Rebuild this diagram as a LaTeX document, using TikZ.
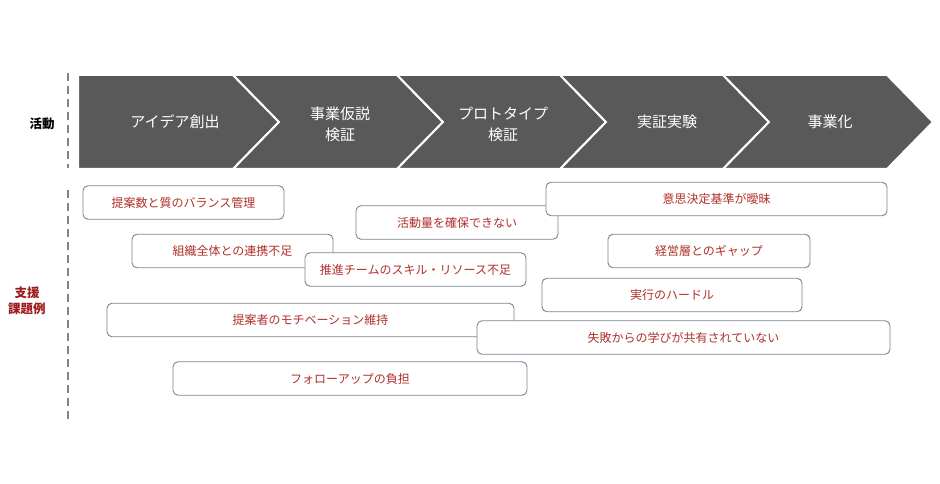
\documentclass[tikz,border=0pt]{standalone}
\usepackage{fontspec}
\setmainfont{Noto Sans CJK JP}
\usepackage{xcolor}
\usetikzlibrary{positioning}

\definecolor{chevgray}{HTML}{595959}
\definecolor{issuered}{HTML}{B0302B}
\definecolor{labelred}{HTML}{9E1B1B}
\definecolor{edgegray}{HTML}{7B8494}

\begin{document}
\begin{tikzpicture}[
  x=1pt, y=-1pt,
  chevron/.style = {fill=chevgray, draw=white, line width=2pt, line join=miter},
  stage/.style   = {text=white, font=\fontsize{15}{21}\selectfont, align=center},
  rowlabel/.style = {font=\fontsize{12.5}{16}\selectfont\bfseries, align=center},
  issue/.style   = {
    draw=edgegray, line width=0.9pt, fill=white, rounded corners=5pt,
    minimum width=#1, minimum height=33.5pt, inner sep=0pt,
    text=issuered, font=\fontsize{12}{14}\selectfont
  },
  divider/.style = {draw=edgegray, line width=1.5pt, dash pattern=on 8pt off 5pt}
]
\useasboundingbox (0,0) rectangle (940,484);

% activity chevrons
\fill[chevron] (78,75) -- (233,75) -- (279,122) -- (233,169) -- (78,169) -- cycle;
\foreach \l/\r in {233/397, 397/560, 560/723, 723/887}
  \fill[chevron] (\l,75) -- (\r,75) -- (\r+46,122) -- (\r,169)
                 -- (\l,169) -- (\l+46,122) -- cycle;

\node[stage] (S1) at (175,122) {アイデア創出};
\node[stage] (S2) at (340,124) {事業仮説\\検証};
\node[stage] (S3) at (503,124) {プロトタイプ\\検証};
\node[stage] (S4) at (667,122) {実証実験};
\node[stage] (S5) at (830,122) {事業化};

% row labels and dividers
\node[rowlabel] (act) at (42,124) {活動};
\node[rowlabel, text=labelred] (sup) at (27,301) {支援\\課題例};
\coordinate (d1a) at (68,73);  \coordinate (d1b) at (68,168);
\coordinate (d2a) at (68,190); \coordinate (d2b) at (68,421);
\draw[divider] (d1a) -- (d1b);
\draw[divider] (d2a) -- (d2b);

% support issues
\node[issue=201pt] (I1)  at (183.5,202.5) {提案数と質のバランス管理};
\node[issue=202pt] (I2)  at (457,222.5)   {活動量を確保できない};
\node[issue=341pt] (I3)  at (716.5,199)   {意思決定基準が曖昧};
\node[issue=201pt] (I4)  at (232.5,251)   {組織全体との連携不足};
\node[issue=221pt] (I5)  at (415.5,269.5) {推進チームのスキル・リソース不足};
\node[issue=202pt] (I6)  at (709,251)     {経営層とのギャップ};
\node[issue=260pt] (I7)  at (672,295)     {実行のハードル};
\node[issue=407pt] (I8)  at (310.5,320)   {提案者のモチベーション維持};
\node[issue=413pt] (I9)  at (683.5,337.5) {失敗からの学びが共有されていない};
\node[issue=354pt] (I10) at (350,378.5)   {フォローアップの負担};

\end{tikzpicture}
\end{document}
